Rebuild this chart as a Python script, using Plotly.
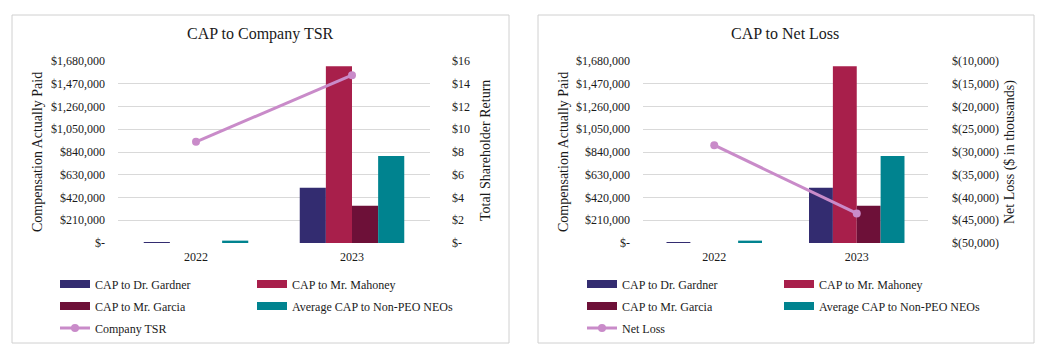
import plotly.graph_objects as go

# The page body adds an 8px offset, so the figure is sized to fit the rest of the 1055x357 window.
OFF = 8
W, H = 1055 - OFF, 357 - OFF

years = ["2022", "2023"]
cap_gardner = [6000, 510000]
cap_mahoney = [0, 1632000]
cap_garcia = [0, 344000]
cap_avg_neo = [22000, 803000]
company_tsr = [8.9, 14.75]
net_loss = [-28500, -43500]

bar_names = ["CAP to Dr. Gardner", "CAP to Mr. Mahoney", "CAP to Mr. Garcia", "Average CAP to Non-PEO NEOs"]
bar_values = [cap_gardner, cap_mahoney, cap_garcia, cap_avg_neo]
bar_colors = ["#332c70", "#a81f4b", "#6d1038", "#00838f"]
line_color = "#c98bc9"

cap_ticks = [0, 210000, 420000, 630000, 840000, 1050000, 1260000, 1470000, 1680000]
cap_ticktext = ["$-", "$210,000", "$420,000", "$630,000", "$840,000", "$1,050,000", "$1,260,000", "$1,470,000", "$1,680,000"]
tsr_ticks = [0, 2, 4, 6, 8, 10, 12, 14, 16]
tsr_ticktext = ["$-", "$2", "$4", "$6", "$8", "$10", "$12", "$14", "$16"]
nl_ticks = [-50000, -45000, -40000, -35000, -30000, -25000, -20000, -15000, -10000]
nl_ticktext = ["$(50,000)", "$(45,000)", "$(40,000)", "$(35,000)", "$(30,000)", "$(25,000)", "$(20,000)", "$(15,000)", "$(10,000)"]

FONT = "Liberation Serif, Times New Roman, serif"
TXT = "#1a1a1a"
GRID = "#d9d9d9"


def px(x):
    return (x - OFF) / W


def py(y):
    return 1 - (y - OFF) / H


fig = go.Figure()

panels = [
    dict(x="x", y="y", y2="y2", line_name="Company TSR", line_vals=company_tsr,
         legends=["legend", "legend2", "legend3"], text_x=97),
    dict(x="x2", y="y3", y2="y4", line_name="Net Loss", line_vals=net_loss,
         legends=["legend4", "legend5", "legend6"], text_x=624),
]

COL_W = 197 - 40 - 5
for p in panels:
    lg = p["legends"]
    bar_legend = [lg[0], lg[0], lg[1], lg[1]]
    for name, vals, col in zip(bar_names, bar_values, bar_colors):
        fig.add_trace(go.Bar(x=years, y=vals, name=name, marker=dict(color=col, line=dict(width=0)),
                             xaxis=p["x"], yaxis=p["y"], showlegend=False))
    # legend swatches (wide bar-like keys)
    for i, (name, col, l) in enumerate(zip(bar_names, bar_colors, bar_legend)):
        fig.add_trace(go.Scatter(x=[None], y=[None], name=name, mode="lines",
                                 line=dict(color=col, width=8),
                                 legendwidth=COL_W if i % 2 == 0 else 230,
                                 xaxis=p["x"], yaxis=p["y"], legend=l, showlegend=True))
    fig.add_trace(go.Scatter(x=years, y=p["line_vals"], name=p["line_name"], mode="lines+markers",
                             line=dict(color=line_color, width=3),
                             marker=dict(color=line_color, size=8),
                             legendwidth=COL_W,
                             xaxis=p["x"], yaxis=p["y2"], legend=lg[2]))

ydom = [py(243), py(61)]
tickfont = dict(family=FONT, size=12, color=TXT)

common_x = dict(type="category", showgrid=False, showline=False, zeroline=False, ticks="",
                tickfont=tickfont, ticklabelstandoff=5, automargin=False)
common_y = dict(showline=False, zeroline=False, ticks="", tickfont=tickfont, gridcolor=GRID, gridwidth=1,
                automargin=False)

legend_rows = [284, 306, 328]
legend_common = dict(orientation="h", bgcolor="rgba(0,0,0,0)", font=dict(family=FONT, size=12, color=TXT),
                     itemwidth=30, xanchor="left", yanchor="middle", tracegroupgap=0,
                     itemclick=False)

layout = dict(
    width=W, height=H, margin=dict(l=0, r=0, t=0, b=0, autoexpand=False),
    paper_bgcolor="white", plot_bgcolor="rgba(0,0,0,0)",
    barmode="group", bargap=0.33, bargroupgap=0,
    font=dict(family=FONT, color=TXT),
    xaxis=dict(common_x, domain=[px(118), px(430)], anchor="y"),
    yaxis=dict(common_y, domain=ydom, anchor="x", range=[0, 1680000], tickvals=cap_ticks,
               ticktext=cap_ticktext, showgrid=True, ticklabelstandoff=12),
    yaxis2=dict(common_y, overlaying="y", side="right", anchor="x", range=[0, 16], tickvals=tsr_ticks,
                ticktext=tsr_ticktext, showgrid=False, ticklabelstandoff=21),
    xaxis2=dict(common_x, domain=[px(643), px(928)], anchor="y3"),
    yaxis3=dict(common_y, domain=ydom, anchor="x2", range=[0, 1680000], tickvals=cap_ticks,
                ticktext=cap_ticktext, showgrid=True, ticklabelstandoff=12),
    yaxis4=dict(common_y, overlaying="y3", side="right", anchor="x2", range=[-50000, -10000],
                tickvals=nl_ticks, ticktext=nl_ticktext, showgrid=False, ticklabelstandoff=23),
)

for p in panels:
    for l, yrow in zip(p["legends"], legend_rows):
        layout[l] = dict(legend_common, x=px(p["text_x"] - 42), y=py(yrow))

fig.update_layout(**layout)

# panel borders
for x0, x1 in [(12, 509), (538, 1034)]:
    fig.add_shape(type="rect", xref="paper", yref="paper", x0=px(x0), x1=px(x1), y0=py(343), y1=py(15),
                  line=dict(color="#d0d0d0", width=1), fillcolor="rgba(0,0,0,0)", layer="below")

annots = [
    ("CAP to Company TSR", 260, 34, 16, 0),
    ("CAP to Net Loss", 785, 34, 16, 0),
    ("Compensation Actually Paid", 37, 152, 14, -90),
    ("Total Shareholder Return", 485, 151, 14, -90),
    ("Compensation Actually Paid", 563, 152, 14, -90),
    ("Net Loss ($ in thousands)", 1010, 152, 14, -90),
]
for text, x, y, size, ang in annots:
    fig.add_annotation(text=text, x=px(x), y=py(y), xref="paper", yref="paper", showarrow=False,
                       xanchor="center", yanchor="middle", textangle=ang,
                       font=dict(family=FONT, size=size, color=TXT))

fig.write_html("out.html")
